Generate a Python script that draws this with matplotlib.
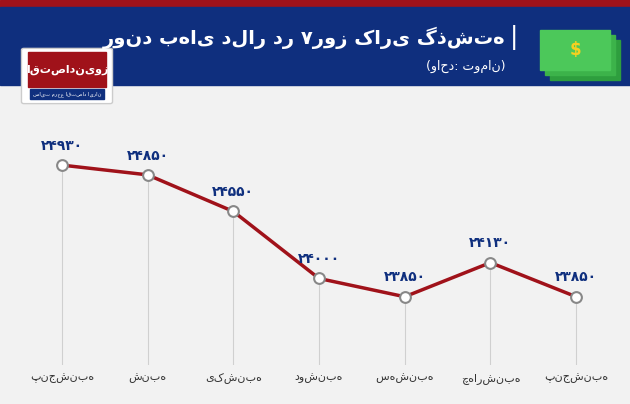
import matplotlib
matplotlib.use("Agg")
import matplotlib.pyplot as plt
from matplotlib.patches import Rectangle, FancyBboxPatch

days = ["پنجشنبه", "شنبه", "یکشنبه", "دوشنبه", "سه‌شنبه", "چهارشنبه", "پنجشنبه"]
values = [24930, 24850, 24550, 24000, 23850, 24130, 23850]
value_labels = ["۲۴۹۳۰", "۲۴۸۵۰", "۲۴۵۵۰", "۲۴۰۰۰", "۲۳۸۵۰", "۲۴۱۳۰", "۲۳۸۵۰"]
title = "روند بهای دلار در ۷روز کاری گذشته"
subtitle = "(واحد: تومان)"

plt.rcParams['font.family'] = ['DejaVu Sans']
W, H = 630, 404
fig = plt.figure(figsize=(W/100, H/100), dpi=100)
fig.patch.set_facecolor("#f2f2f2")

# header
fig.patches.append(Rectangle((0, 1-7/H), 1, 7/H, transform=fig.transFigure, color="#a0121a", zorder=0))
fig.patches.append(Rectangle((0, 1-85/H), 1, 78/H, transform=fig.transFigure, color="#0f2f7e", zorder=0))
fig.text(505/W, 1-38/H, title, color="white", fontsize=14, fontweight="bold", ha="right", va="center")
fig.text(514/W, 1-38/H, "|", color="white", fontsize=18, ha="center", va="center")
fig.text(505/W, 1-66/H, subtitle, color="white", fontsize=9, ha="right", va="center")
# logo
fig.patches.append(FancyBboxPatch((24/W, 1-102/H), 86/W, 52/H, boxstyle="round,pad=0.004",
                                  transform=fig.transFigure, fc="white", ec="#cccccc", zorder=1))
fig.patches.append(Rectangle((28/W, 1-87/H), 78/W, 35/H, transform=fig.transFigure, color="#a0121a", zorder=2))
fig.patches.append(Rectangle((30/W, 1-99/H), 74/W, 10/H, transform=fig.transFigure, color="#0f2f7e", zorder=2))
fig.text(67/W, 1-70/H, "اقتصادنیوز", color="white", fontsize=8, fontweight="bold", ha="center", va="center", zorder=3)
fig.text(67/W, 1-94/H, "سایت مرجع اقتصاد ایران", color="white", fontsize=3.8, ha="center", va="center", zorder=3)
# money icon
for i, dx in enumerate([10, 5, 0]):
    fig.patches.append(Rectangle(((540+dx)/W, (1-70/H) - dx/H), 70/W, 40/H, transform=fig.transFigure,
                                 color=["#2e9e3e", "#3cb34a", "#4cc85a"][i], zorder=1))
fig.text(575/W, 1-50/H, "$", color="#f5d020", fontsize=12, fontweight="bold", ha="center", va="center", zorder=3)

ax = fig.add_axes([19/W, 39/H, 600/W, 245/H])
ax.set_facecolor("none")
x = list(range(len(values)))
ax.set_xlim(-0.5, 6.5)
ax.set_ylim(23290, 25300)
for xi, v in zip(x, values):
    ax.vlines(xi, 23290, v, color="#d0d0d0", lw=0.8, zorder=1)
ax.plot(x, values, color="#a0121a", lw=2.5, zorder=2)
ax.scatter(x, values, s=60, facecolor="white", edgecolor="#888888", lw=1.5, zorder=3)
for xi, v, t in zip(x, values, value_labels):
    ax.annotate(t, (xi, v), xytext=(0, 11), textcoords="offset points", ha="center",
                color="#0f2f7e", fontsize=10, fontweight="bold")
ax.set_xticks(x)
ax.set_xticklabels(days, fontsize=8, color="#333333")
ax.set_yticks([])
ax.tick_params(axis="x", length=0, pad=6)
for s in ax.spines.values():
    s.set_visible(False)

fig.savefig("out.png", dpi=100, facecolor=fig.get_facecolor())
